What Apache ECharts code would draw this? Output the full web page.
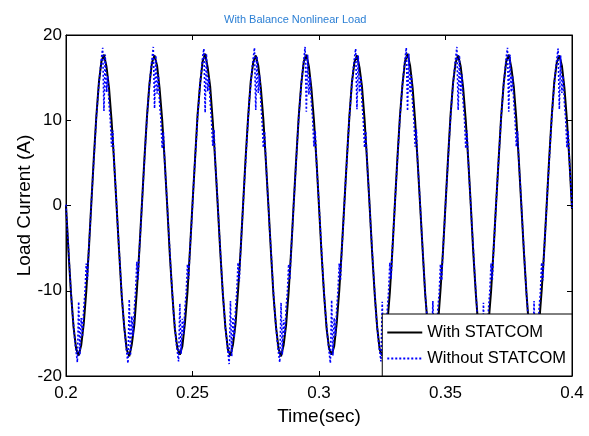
<!DOCTYPE html>
<html>
<head>
<meta charset="utf-8">
<script src="https://cdn.jsdelivr.net/npm/echarts@6/dist/echarts.min.js"></script>
<style>html,body{margin:0;padding:0;background:#fff;}#c{width:589px;height:436px;}</style>
</head>
<body>
<div id="c"></div>
<script>
const titleText = 'With Balance Nonlinear Load';
const xName = 'Time(sec)';
const yName = 'Load Current (A)';
const seriesNames = ['With STATCOM', 'Without STATCOM'];
const xTicks = [0.2, 0.25, 0.3, 0.35, 0.4];
const yTicks = [-20, -10, 0, 10, 20];
const T_START = 0.2;
const STEP_WITH = 0.001;
const STEP_WITHOUT = 0.0005;

// With STATCOM: sampled every 1 ms from 0.200 s
const withStatcom = [
 0, -5.5, -10.4, -14.3, -16.8, -17.6, -16.4, -13.9, -10.1, -5.3, 0.2, 5.6, 10.5, 14.4, 16.9, 17.7, 16.3, 13.8, 10.0, 5.2,
 -0.1, -5.4, -10.5, -14.2, -16.9, -17.7, -16.3, -14.0, -10.0, -5.2, 0.1, 5.5, 10.4, 14.3, 16.8, 17.6, 16.4, 13.7, 10.1, 5.3,
 0, -5.6, -10.3, -14.4, -16.7, -17.5, -16.5, -13.8, -10.2, -5.2, 0.2, 5.4, 10.6, 14.2, 16.9, 17.8, 16.2, 13.9, 9.9, 5.1,
 -0.1, -5.5, -10.4, -14.3, -16.9, -17.6, -16.3, -13.9, -10.0, -5.4, 0.1, 5.6, 10.4, 14.5, 16.8, 17.6, 16.4, 13.8, 10.1, 5.2,
 0, -5.4, -10.5, -14.2, -16.8, -17.7, -16.4, -14.0, -10.1, -5.3, 0.2, 5.5, 10.5, 14.3, 16.9, 17.7, 16.3, 13.7, 10.0, 5.3,
 -0.1, -5.6, -10.4, -14.4, -16.8, -17.5, -16.5, -13.8, -10.0, -5.2, 0.1, 5.4, 10.4, 14.4, 16.8, 17.6, 16.2, 13.9, 10.1, 5.2,
 0, -5.5, -10.3, -14.3, -16.9, -17.6, -16.3, -13.9, -10.2, -5.3, 0.2, 5.6, 10.5, 14.2, 16.9, 17.8, 16.4, 13.8, 9.9, 5.1,
 -0.1, -5.4, -10.5, -14.2, -16.7, -17.7, -16.4, -14.0, -10.0, -5.4, 0.1, 5.5, 10.6, 14.4, 16.8, 17.6, 16.3, 13.7, 10.0, 5.3,
 0, -5.6, -10.4, -14.4, -16.8, -17.6, -16.5, -13.8, -10.1, -5.2, 0.2, 5.4, 10.4, 14.3, 16.9, 17.7, 16.2, 13.9, 10.1, 5.2,
 -0.1, -5.5, -10.3, -14.3, -16.9, -17.5, -16.3, -13.9, -10.0, -5.3, 0.1, 5.6, 10.5, 14.5, 16.8, 17.6, 16.4, 13.8, 10.0, 5.2,
 -0.4
];

// Without STATCOM: sampled every 0.5 ms from 0.200 s
const withoutStatcom = [
 0.1, -2.7, -5.0, -7.9, -10.2, -12.5, -14.1, -15.9, -17.2, -18.4, -11.3, -17.5, -13.2, -15.4, -12.1, -10.2, -6.8, -8.7, -5.1, -2.6,
 0.2, 2.8, 5.3, 7.8, 10.4, 12.3, 14.3, 15.8, 17.3, 18.5, 11.1, 17.7, 13.3, 15.2, 12.0, 10.1, 6.9, 8.8, 5.0, 2.7,
 0.0, -2.8, -5.2, -7.8, -10.3, -12.4, -14.2, -15.8, -17.3, -18.5, -11.0, -17.6, -13.0, -15.3, -12.2, -10.0, -6.6, -8.8, -5.2, -2.7,
 0.1, 2.7, 5.2, 7.9, 10.3, 12.4, 14.2, 15.9, 17.2, 18.6, 11.4, 17.6, 13.1, 15.4, 11.9, 10.2, 6.7, 8.6, 5.1, 2.6,
 0.2, -2.6, -5.1, -8.0, -10.1, -12.6, -14.0, -16.0, -17.1, -18.3, -11.5, -17.4, -13.3, -15.1, -12.0, -10.3, -6.9, -8.6, -5.0, -2.8,
 0.0, 2.9, 5.4, 7.7, 10.5, 12.2, 14.4, 15.7, 17.4, 18.4, 10.9, 17.8, 13.4, 15.0, 12.1, 10.0, 7.0, 8.9, 4.9, 2.8,
 0.1, -2.7, -5.3, -7.9, -10.4, -12.3, -14.3, -15.7, -17.2, -18.6, -11.2, -17.7, -13.1, -15.5, -12.3, -10.1, -6.7, -8.9, -5.3, -2.6,
 0.1, 2.8, 5.1, 7.8, 10.2, 12.5, 14.1, 15.9, 17.3, 18.5, 11.2, 17.5, 13.2, 15.3, 12.2, 9.9, 6.8, 8.7, 5.2, 2.5,
 0.0, -2.9, -5.0, -7.7, -10.2, -12.5, -14.2, -15.9, -17.3, -18.4, -11.4, -17.5, -13.4, -15.2, -11.9, -10.2, -6.9, -8.7, -5.1, -2.7,
 0.2, 2.7, 5.3, 8.0, 10.4, 12.3, 14.3, 15.8, 17.1, 18.6, 11.0, 17.7, 13.0, 15.1, 12.0, 10.1, 6.9, 8.8, 5.0, 2.7,
 0.1, -2.6, -5.2, -7.9, -10.3, -12.4, -14.1, -15.8, -17.2, -18.5, -11.1, -17.6, -13.2, -15.3, -12.1, -10.0, -6.8, -8.8, -5.2, -2.8,
 0.1, 2.9, 5.2, 7.9, 10.3, 12.4, 14.2, 15.9, 17.3, 18.4, 11.3, 17.6, 13.3, 15.2, 12.1, 10.0, 6.8, 8.7, 5.1, 2.6,
 0.0, -2.8, -5.1, -7.8, -10.1, -12.6, -14.3, -15.9, -17.1, -18.3, -11.3, -17.4, -13.1, -15.4, -12.2, -10.1, -6.7, -8.6, -5.0, -2.6,
 0.2, 2.8, 5.3, 7.8, 10.4, 12.3, 14.3, 15.8, 17.2, 18.5, 11.1, 17.8, 13.2, 15.3, 11.9, 10.2, 6.9, 8.9, 5.0, 2.7,
 0.1, -2.7, -5.3, -8.0, -10.4, -12.4, -14.2, -15.7, -17.3, -18.6, -11.2, -17.6, -13.3, -15.2, -12.0, -10.3, -6.9, -8.8, -5.1, -2.7,
 0.1, 2.7, 5.2, 7.9, 10.3, 12.5, 14.2, 15.9, 17.3, 18.6, 11.2, 17.6, 13.1, 15.4, 12.0, 10.1, 6.7, 8.8, 5.2, 2.6,
 0.0, -2.8, -5.0, -7.8, -10.2, -12.5, -14.1, -16.0, -17.2, -18.4, -11.4, -17.5, -13.2, -15.3, -12.1, -10.1, -6.8, -8.7, -5.2, -2.6,
 0.2, 2.8, 5.4, 7.8, 10.4, 12.3, 14.3, 15.7, 17.4, 18.5, 11.0, 17.7, 13.3, 15.2, 12.1, 10.0, 6.9, 8.7, 5.0, 2.8,
 0.1, -2.7, -5.2, -7.9, -10.3, -12.4, -14.2, -15.8, -17.2, -18.5, -11.2, -17.6, -13.1, -15.4, -12.0, -10.2, -6.7, -8.8, -5.1, -2.7,
 0.1, 2.9, 5.2, 7.9, 10.3, 12.4, 14.2, 15.9, 17.2, 18.4, 11.3, 17.6, 13.2, 15.2, 12.0, 10.1, 6.8, 8.8, 5.1, 2.6,
 -0.3
];

const FONT = 'Liberation Sans, Arial, sans-serif';
const toPairs = (vals, step) => vals.map((v, i) => [+(T_START + i * step).toFixed(5), v]);

// legend glyphs: solid line and dotted line inside a 35x14 box
const solidIcon = 'path://M0,0M35,14M0,6H35V8H0Z';
let dots = 'path://M0,0M35,14';
for (let x = 0; x + 2 <= 35; x += 4) dots += 'M' + x + ',6h2v2h-2z';
const dottedIcon = dots;

const chart = echarts.init(document.getElementById('c'), null, {renderer: 'canvas'});
const axisBase = {
  axisLine: {show: true, onZero: false, lineStyle: {color: '#000', width: 1}},
  axisTick: {show: true, inside: true, length: 5, lineStyle: {color: '#000'}},
  splitLine: {show: false}
};
chart.setOption({
  animation: false,
  backgroundColor: '#fff',
  title: {
    text: titleText, left: 219, top: 9,
    textStyle: {fontFamily: 'Liberation Sans Narrow, Arial Narrow, ' + FONT, fontSize: 11, fontWeight: 'normal', color: '#2b7fd4'}
  },
  grid: {left: 66, right: 17, top: 35, bottom: 60, show: true, borderColor: '#000', borderWidth: 1, containLabel: false},
  legend: {
    data: [{name: seriesNames[0], icon: solidIcon}, {name: seriesNames[1], icon: dottedIcon}],
    orient: 'vertical', right: 17, bottom: 60,
    backgroundColor: '#fff', borderColor: '#000', borderWidth: 1,
    padding: [10, 6, 9, 5], itemGap: 9, itemWidth: 35, itemHeight: 14,
    itemStyle: {borderWidth: 0},
    textStyle: {fontFamily: FONT, fontSize: 16.5, color: '#000'}, z: 10
  },
  xAxis: [
    Object.assign({}, axisBase, {
      type: 'value', min: xTicks[0], max: xTicks[xTicks.length - 1], interval: 0.05,
      name: xName, nameLocation: 'middle', nameGap: 31, nameMoveOverlap: false,
      nameTextStyle: {fontFamily: FONT, fontSize: 19, color: '#000'},
      axisLabel: {fontFamily: FONT, fontSize: 17, color: '#000', margin: 9}
    }),
    Object.assign({}, axisBase, {
      type: 'value', position: 'top', min: xTicks[0], max: xTicks[xTicks.length - 1], interval: 0.05,
      axisLabel: {show: false}
    })
  ],
  yAxis: [
    Object.assign({}, axisBase, {
      type: 'value', min: yTicks[0], max: yTicks[yTicks.length - 1], interval: 10,
      name: yName, nameLocation: 'middle', nameGap: 32, nameMoveOverlap: false,
      nameTextStyle: {fontFamily: FONT, fontSize: 19, color: '#000'},
      axisLabel: {fontFamily: FONT, fontSize: 17, color: '#000', margin: 4}
    }),
    Object.assign({}, axisBase, {
      type: 'value', position: 'right', min: yTicks[0], max: yTicks[yTicks.length - 1], interval: 10,
      axisLabel: {show: false}
    })
  ],
  series: [
    {
      name: seriesNames[0], type: 'line', showSymbol: false, symbol: 'none',
      data: toPairs(withStatcom, STEP_WITH),
      lineStyle: {color: '#000', width: 2}, itemStyle: {color: '#000'}, z: 2
    },
    {
      name: seriesNames[1], type: 'line', showSymbol: false, symbol: 'none',
      data: toPairs(withoutStatcom, STEP_WITHOUT),
      lineStyle: {color: '#0000ff', width: 1.6, type: [2, 2]}, itemStyle: {color: '#0000ff'}, z: 3
    }
  ]
});
</script>
</body>
</html>
